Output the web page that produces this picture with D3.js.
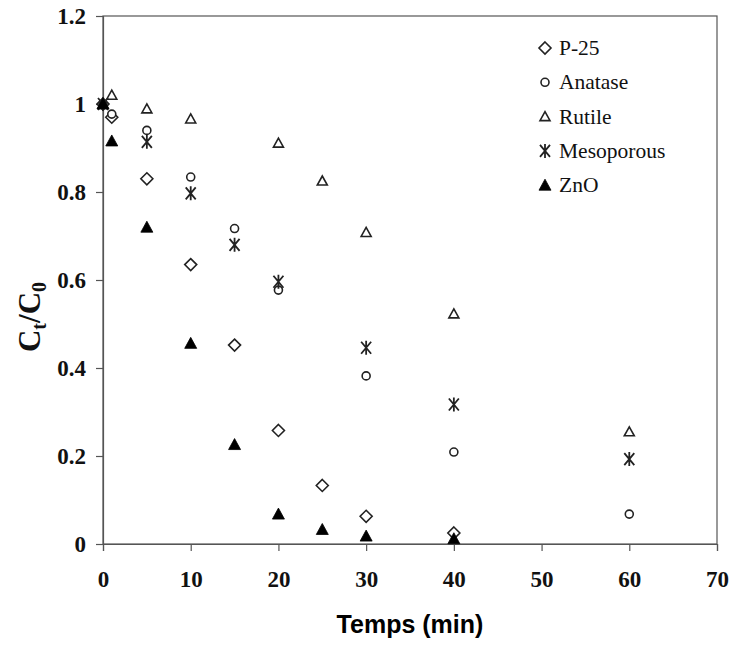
<!DOCTYPE html>
<html><head><meta charset="utf-8">
<script src="https://cdn.jsdelivr.net/npm/d3@7/dist/d3.min.js"></script>
<style>body{margin:0;background:#fff}</style>
</head><body><svg id="c" width="733" height="645"></svg>
<script>
const xTicks = [0,10,20,30,40,50,60,70];
const yTicks = [0,0.2,0.4,0.6,0.8,1,1.2];
const yTickLabels = ["0","0.2","0.4","0.6","0.8","1","1.2"];
const seriesNames = ["P-25","Anatase","Rutile","Mesoporous","ZnO"];
const p25X = [0,1,5,10,15,20,25,30,40];
const p25Y = [1.0,0.97,0.83,0.635,0.452,0.258,0.133,0.063,0.025];
const anataseX = [0,1,5,10,15,20,30,40,60];
const anataseY = [1.0,0.977,0.94,0.834,0.717,0.577,0.382,0.209,0.068];
const rutileX = [0,1,5,10,20,25,30,40,60];
const rutileY = [1.0,1.02,0.989,0.966,0.911,0.825,0.708,0.523,0.255];
const mesoX = [0,5,10,15,20,30,40,60];
const mesoY = [1.0,0.914,0.797,0.68,0.596,0.446,0.317,0.193];
const znoX = [0,1,5,10,15,20,25,30,40];
const znoY = [1.0,0.916,0.72,0.456,0.226,0.068,0.033,0.018,0.012];

const svg = d3.select("#c");
const m = {l:103, t:16, r:717, b:544};
const x = d3.scaleLinear().domain([0,70]).range([m.l,m.r]);
const y = d3.scaleLinear().domain([0,1.2]).range([m.b,m.t]);
const ink = "#222";

// frame
svg.append("rect").attr("x",m.l).attr("y",m.t).attr("width",m.r-m.l).attr("height",m.b-m.t)
  .attr("fill","none").attr("stroke","#555").attr("stroke-width",1.2);

const xa = svg.append("g").attr("transform",`translate(0,${m.b})`)
  .call(d3.axisBottom(x).tickValues(xTicks).tickSize(7).tickPadding(20).tickFormat(d3.format("d")));
const ya = svg.append("g").attr("transform",`translate(${m.l},0)`)
  .call(d3.axisLeft(y).tickValues(yTicks).tickSize(7).tickPadding(10).tickFormat((d,i)=>yTickLabels[i]));
[xa,ya].forEach(g=>{
  g.select(".domain").attr("stroke","#555").attr("stroke-width",1.2);
  g.selectAll(".tick line").attr("stroke","#555").attr("stroke-width",1.2);
  g.selectAll("text").attr("font-family","'Liberation Serif','Times New Roman',serif")
   .attr("font-weight","bold").attr("font-size",23).attr("fill","#111");
});

function drawMarker(g, type){
  if(type==="diamond"){
    g.append("path").attr("d","M0,-6L6,0L0,6L-6,0Z").attr("fill","#fff").attr("stroke",ink).attr("stroke-width",1.6);
  } else if(type==="circle"){
    g.append("circle").attr("r",4).attr("fill","#fff").attr("stroke",ink).attr("stroke-width",1.6);
  } else if(type==="tri"){
    g.append("path").attr("d","M0,-5L5,4L-5,4Z").attr("fill","#fff").attr("stroke",ink).attr("stroke-width",1.6);
  } else if(type==="star"){
    g.append("path").attr("d","M-5,-6L5,6M5,-6L-5,6M0,-7L0,7").attr("fill","none").attr("stroke",ink).attr("stroke-width",1.8);
  } else if(type==="ftri"){
    g.append("path").attr("d","M0,-6L6,5L-6,5Z").attr("fill","#000").attr("stroke","#000").attr("stroke-width",0.8);
  }
}
const series = [
  {name:seriesNames[0], xs:p25X, ys:p25Y, type:"diamond"},
  {name:seriesNames[1], xs:anataseX, ys:anataseY, type:"circle"},
  {name:seriesNames[2], xs:rutileX, ys:rutileY, type:"tri"},
  {name:seriesNames[3], xs:mesoX, ys:mesoY, type:"star"},
  {name:seriesNames[4], xs:znoX, ys:znoY, type:"ftri"}
];
const pts = svg.append("g");
series.forEach(s=>{
  s.xs.forEach((xv,i)=>{
    const g = pts.append("g").attr("transform",`translate(${x(xv)},${y(s.ys[i])})`);
    drawMarker(g, s.type);
  });
});

// legend
const lg = svg.append("g");
series.forEach((s,i)=>{
  const yy = 48 + i*34.3;
  const g = lg.append("g").attr("transform",`translate(545,${yy})`);
  drawMarker(g, s.type);
  lg.append("text").attr("x",559).attr("y",yy+7).text(s.name)
    .attr("font-family","'Liberation Serif','Times New Roman',serif").attr("font-size",21.5).attr("fill","#111");
});

// axis titles
svg.append("text").attr("x",410).attr("y",633).attr("text-anchor","middle")
  .attr("font-family","'Liberation Sans',Arial,sans-serif").attr("font-weight","bold").attr("font-size",25)
  .attr("fill","#000").text("Temps (min)");
const yt = svg.append("text").attr("transform","translate(40,317) rotate(-90)").attr("text-anchor","middle")
  .attr("font-family","'Liberation Serif','Times New Roman',serif").attr("font-weight","bold").attr("font-size",31).attr("fill","#111");
yt.append("tspan").text("C");
yt.append("tspan").attr("font-size",20).attr("dy",6).text("t");
yt.append("tspan").attr("dy",-6).text("/C");
yt.append("tspan").attr("font-size",20).attr("dy",6).text("0");
</script></body></html>
